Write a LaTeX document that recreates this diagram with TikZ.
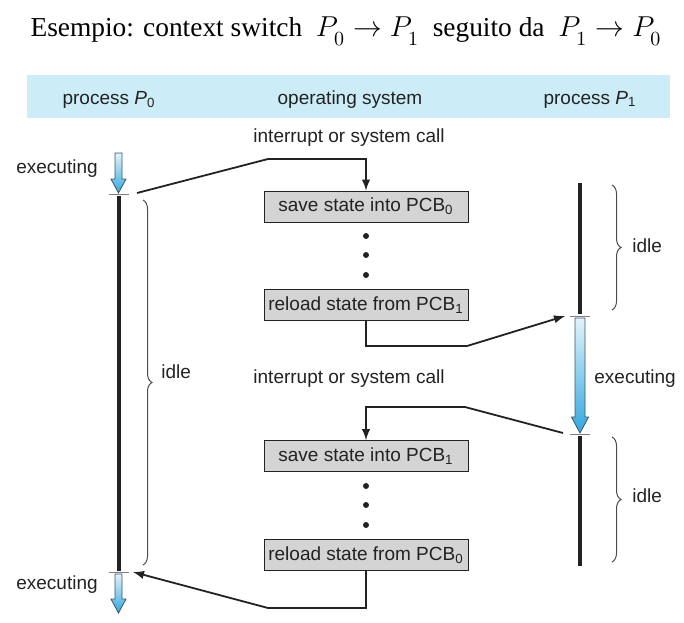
\documentclass[tikz,border=0pt]{standalone}
\usepackage{fontspec}
\setmainfont{Liberation Serif}
\setsansfont{Liberation Sans}
\usetikzlibrary{positioning, calc, arrows.meta, arrows, decorations.pathreplacing}
\definecolor{bandblue}{HTML}{CCEDF8}
\definecolor{boxgray}{HTML}{D4D4D4}
\definecolor{runlight}{HTML}{E2F3FB}
\definecolor{rundark}{HTML}{30A8DE}
\definecolor{runedge}{HTML}{3C5566}
\definecolor{inkgray}{HTML}{222222}
\tikzstyle{statebox}=[rectangle, draw=inkgray, fill=boxgray, thin, minimum width=102pt,
  minimum height=15.5pt, inner sep=0pt, text=inkgray, font=\sffamily\fontsize{9.5}{11}\selectfont]
\tikzstyle{tag}=[inner sep=0pt, text=inkgray, font=\sffamily\fontsize{9.5}{11}\selectfont]
\tikzstyle{arrow}=[line width=0.9pt, inkgray, ->, >=latex]
\tikzstyle{timeline}=[line width=2pt, inkgray]
\tikzstyle{tick}=[gray, line width=0.4pt]
\tikzstyle{idlebrace}=[decorate, decoration={brace, amplitude=4.5pt}, gray!60!black, line width=0.5pt]

\begin{document}
\begin{tikzpicture}[x=0.5pt, y=-0.5pt]
    \useasboundingbox (0,0) rectangle (684,622);

    % Title and header band
    \node[anchor=base, font=\fontsize{13.7}{16}\selectfont] (title) at (346,36)
      {Esempio: context switch \ $P_{\raisebox{-0.4ex}{$\scriptstyle 0$}} \rightarrow P_{\raisebox{-0.4ex}{$\scriptstyle 1$}}$ \ seguito da \ $P_{\raisebox{-0.4ex}{$\scriptstyle 1$}} \rightarrow P_{\raisebox{-0.4ex}{$\scriptstyle 0$}}$};
    \fill[bandblue] (27,75) rectangle (670,118);
    \node[tag, anchor=base] (head0) at (109,104) {process \textit{P}\textsubscript{0}};
    \node[tag, anchor=base] (heados) at (350,104) {operating system};
    \node[tag, anchor=base] (head1) at (590,104) {process \textit{P}\textsubscript{1}};

    % Nodes
    \node[statebox] (save0) at (366,206.5) {save state into PCB\textsubscript{0}};
    \node[statebox, below=33.5pt of save0] (reload1) {reload state from PCB\textsubscript{1}};
    \node[statebox] (save1) at (366,456) {save state into PCB\textsubscript{1}};
    \node[statebox, below=33.5pt of save1] (reload0) {reload state from PCB\textsubscript{0}};
    \foreach \y in {236,255,275,486,505,525}
      \fill[inkgray] (366,\y) circle (1.5pt);

    % Timelines
    \foreach \x/\ytop/\ybot/\sw/\hw/\hl in {118.5/153/193/3.5/7.5/14, 118.5/574/613/3.5/7.5/14,
                                            580/318/433/5/8.5/16}
      \shade[top color=runlight, bottom color=rundark, draw=runedge, line width=0.4pt]
        (\x-\sw,\ytop) -- (\x+\sw,\ytop) -- (\x+\sw,\ybot-\hl) -- (\x+\hw,\ybot-\hl)
        -- (\x,\ybot) -- (\x-\hw,\ybot-\hl) -- (\x-\sw,\ybot-\hl) -- cycle;
    \draw[timeline] (118.5,196) -- (118.5,571);
    \draw[timeline] (580,183) -- (580,314);
    \draw[timeline] (580,436) -- (580,566);
    \foreach \x/\y in {118.5/194, 118.5/572, 580/316, 580/434}
      \draw[tick] (\x-10,\y) -- (\x+10,\y);

    % Idle braces
    \draw[idlebrace] (143,200) -- (143,565);
    \draw[idlebrace] (612,185) -- (612,310);
    \draw[idlebrace] (612,437) -- (612,562);

    % Labels
    \node[tag, anchor=base] (exec0a) at (57,173) {executing};
    \node[tag, anchor=base] (exec0b) at (57,589) {executing};
    \node[tag, anchor=base west] (exec1) at (594,383) {executing};
    \node[tag, anchor=base west] (idle0) at (161,378) {idle};
    \node[tag, anchor=base west] (idle1a) at (632,252) {idle};
    \node[tag, anchor=base west] (idle1b) at (632,502) {idle};
    \node[tag, anchor=base] (call0) at (349,142) {interrupt or system call};
    \node[tag, anchor=base] (call1) at (349,383) {interrupt or system call};

    % Switch points
    \coordinate (p0out) at (137,193);
    \coordinate (p1in) at (565,316);
    \coordinate (p1out) at (563,433);
    \coordinate (p0back) at (133,572);

    % Full arrows
    \draw[arrow] (p0out) -- (268,159) -| (save0.north);
    \draw[arrow] (reload1.south) |- (467,346) -- (p1in);
    \draw[arrow] (p1out) -- (465,407) -| (save1.north);
    \draw[arrow] (reload0.south) |- (268,608) -- (p0back);
\end{tikzpicture}
\end{document}
